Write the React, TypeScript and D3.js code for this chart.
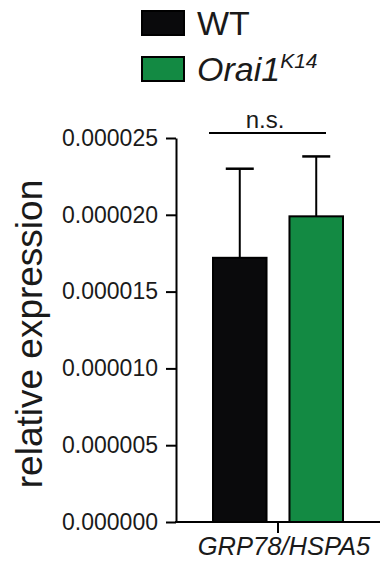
import React, { useRef, useEffect } from "react";
import * as d3 from "d3";

const genes = ["GRP78/HSPA5"];
const genotypes = ["WT", "Orai1"];
const means = [0.0000172, 0.0000199];
const errors = [0.0000058, 0.0000039];
const colors = ["#0a0a0c", "#138a43"];
const yTicks = [0, 0.000005, 0.00001, 0.000015, 0.00002, 0.000025];

const App = () => {
  const chartRef = useRef<SVGSVGElement | null>(null);

  useEffect(() => {
    const width = 380;
    const height = 562;
    const margin = { top: 138, right: 0, bottom: 40, left: 176 };
    const font = "'Liberation Sans', Arial, sans-serif";

    const svg = d3.select(chartRef.current);
    svg.selectAll("*").remove();

    const y = d3
      .scaleLinear()
      .domain([0, 0.000025])
      .range([height - margin.bottom, margin.top]);

    const x0 = d3.scaleBand().domain(genes).range([213, 343]).padding(0);
    const x1 = d3
      .scaleBand()
      .domain(genotypes)
      .range([0, x0.bandwidth()])
      .paddingInner(0.3)
      .paddingOuter(0);

    const data = genotypes.map((g, i) => ({
      gene: genes[0],
      genotype: g,
      mean: means[i],
      err: errors[i],
      color: colors[i],
    }));

    // y axis
    const yAxis = svg
      .append("g")
      .attr("transform", `translate(${margin.left},0)`)
      .call(
        d3
          .axisLeft(y)
          .tickValues(yTicks)
          .tickFormat(d3.format(".6f"))
          .tickSize(10)
          .tickSizeOuter(0)
          .tickPadding(8)
      );
    yAxis.selectAll("path, line").attr("stroke", "#000").attr("stroke-width", 2);
    yAxis
      .selectAll("text")
      .attr("font-family", font)
      .attr("font-size", "23px")
      .attr("fill", "#1a1a1a");

    // x axis
    const xAxis = svg
      .append("g")
      .attr("transform", `translate(0,${height - margin.bottom})`)
      .call(d3.axisBottom(x0).tickSize(11).tickSizeOuter(0).tickPadding(4));
    xAxis.select(".domain").remove();
    xAxis.selectAll("line").attr("stroke", "#000").attr("stroke-width", 2);
    xAxis
      .selectAll("text")
      .attr("font-family", font)
      .attr("font-style", "italic")
      .attr("font-size", "25.5px")
      .attr("dx", "6")
      .attr("fill", "#1a1a1a");
    svg
      .append("line")
      .attr("x1", margin.left - 1)
      .attr("x2", width)
      .attr("y1", y(0))
      .attr("y2", y(0))
      .attr("stroke", "#000")
      .attr("stroke-width", 2);

    // bars
    const g = svg.append("g");
    g.selectAll("rect")
      .data(data)
      .join("rect")
      .attr("x", (d) => (x0(d.gene) ?? 0) + (x1(d.genotype) ?? 0))
      .attr("y", (d) => y(d.mean))
      .attr("width", x1.bandwidth())
      .attr("height", (d) => y(0) - y(d.mean))
      .attr("fill", (d) => d.color)
      .attr("stroke", "#000")
      .attr("stroke-width", 2);

    // error bars
    const cx = (d) => (x0(d.gene) ?? 0) + (x1(d.genotype) ?? 0) + x1.bandwidth() / 2;
    g.selectAll("line.whisker")
      .data(data)
      .join("line")
      .attr("class", "whisker")
      .attr("x1", cx)
      .attr("x2", cx)
      .attr("y1", (d) => y(d.mean))
      .attr("y2", (d) => y(d.mean + d.err))
      .attr("stroke", "#000")
      .attr("stroke-width", 2);
    g.selectAll("line.cap")
      .data(data)
      .join("line")
      .attr("class", "cap")
      .attr("x1", (d) => cx(d) - 14)
      .attr("x2", (d) => cx(d) + 14)
      .attr("y1", (d) => y(d.mean + d.err))
      .attr("y2", (d) => y(d.mean + d.err))
      .attr("stroke", "#000")
      .attr("stroke-width", 2.5);

    // significance
    svg
      .append("line")
      .attr("x1", 209)
      .attr("x2", 326)
      .attr("y1", 133)
      .attr("y2", 133)
      .attr("stroke", "#000")
      .attr("stroke-width", 2);
    svg
      .append("text")
      .attr("x", 265)
      .attr("y", 128)
      .attr("text-anchor", "middle")
      .attr("font-family", font)
      .attr("font-size", "24px")
      .attr("fill", "#1a1a1a")
      .text("n.s.");

    // y label
    svg
      .append("text")
      .attr("transform", `translate(42,334) rotate(-90)`)
      .attr("text-anchor", "middle")
      .attr("font-family", font)
      .attr("font-size", "37px")
      .attr("fill", "#1a1a1a")
      .text("relative expression");

    // legend
    const legend = svg.append("g");
    data.forEach((d, i) => {
      legend
        .append("rect")
        .attr("x", 142)
        .attr("y", 11 + i * 46)
        .attr("width", 42)
        .attr("height", 24)
        .attr("fill", d.color)
        .attr("stroke", "#000")
        .attr("stroke-width", 2);
    });
    legend
      .append("text")
      .attr("x", 197)
      .attr("y", 35)
      .attr("font-family", font)
      .attr("font-size", "34px")
      .attr("fill", "#1a1a1a")
      .text("WT");
    const t2 = legend
      .append("text")
      .attr("x", 197)
      .attr("y", 81)
      .attr("font-family", font)
      .attr("font-style", "italic")
      .attr("font-size", "34px")
      .attr("fill", "#1a1a1a");
    t2.append("tspan").text("Orai1");
    t2.append("tspan")
      .attr("font-size", "21px")
      .attr("dy", "-13")
      .text("K14");
  }, []);

  return (
    <svg
      ref={chartRef}
      width={380}
      height={562}
      style={{ position: "absolute", left: 0, top: 0, background: "#fff" }}
    />
  );
};

export default App;
